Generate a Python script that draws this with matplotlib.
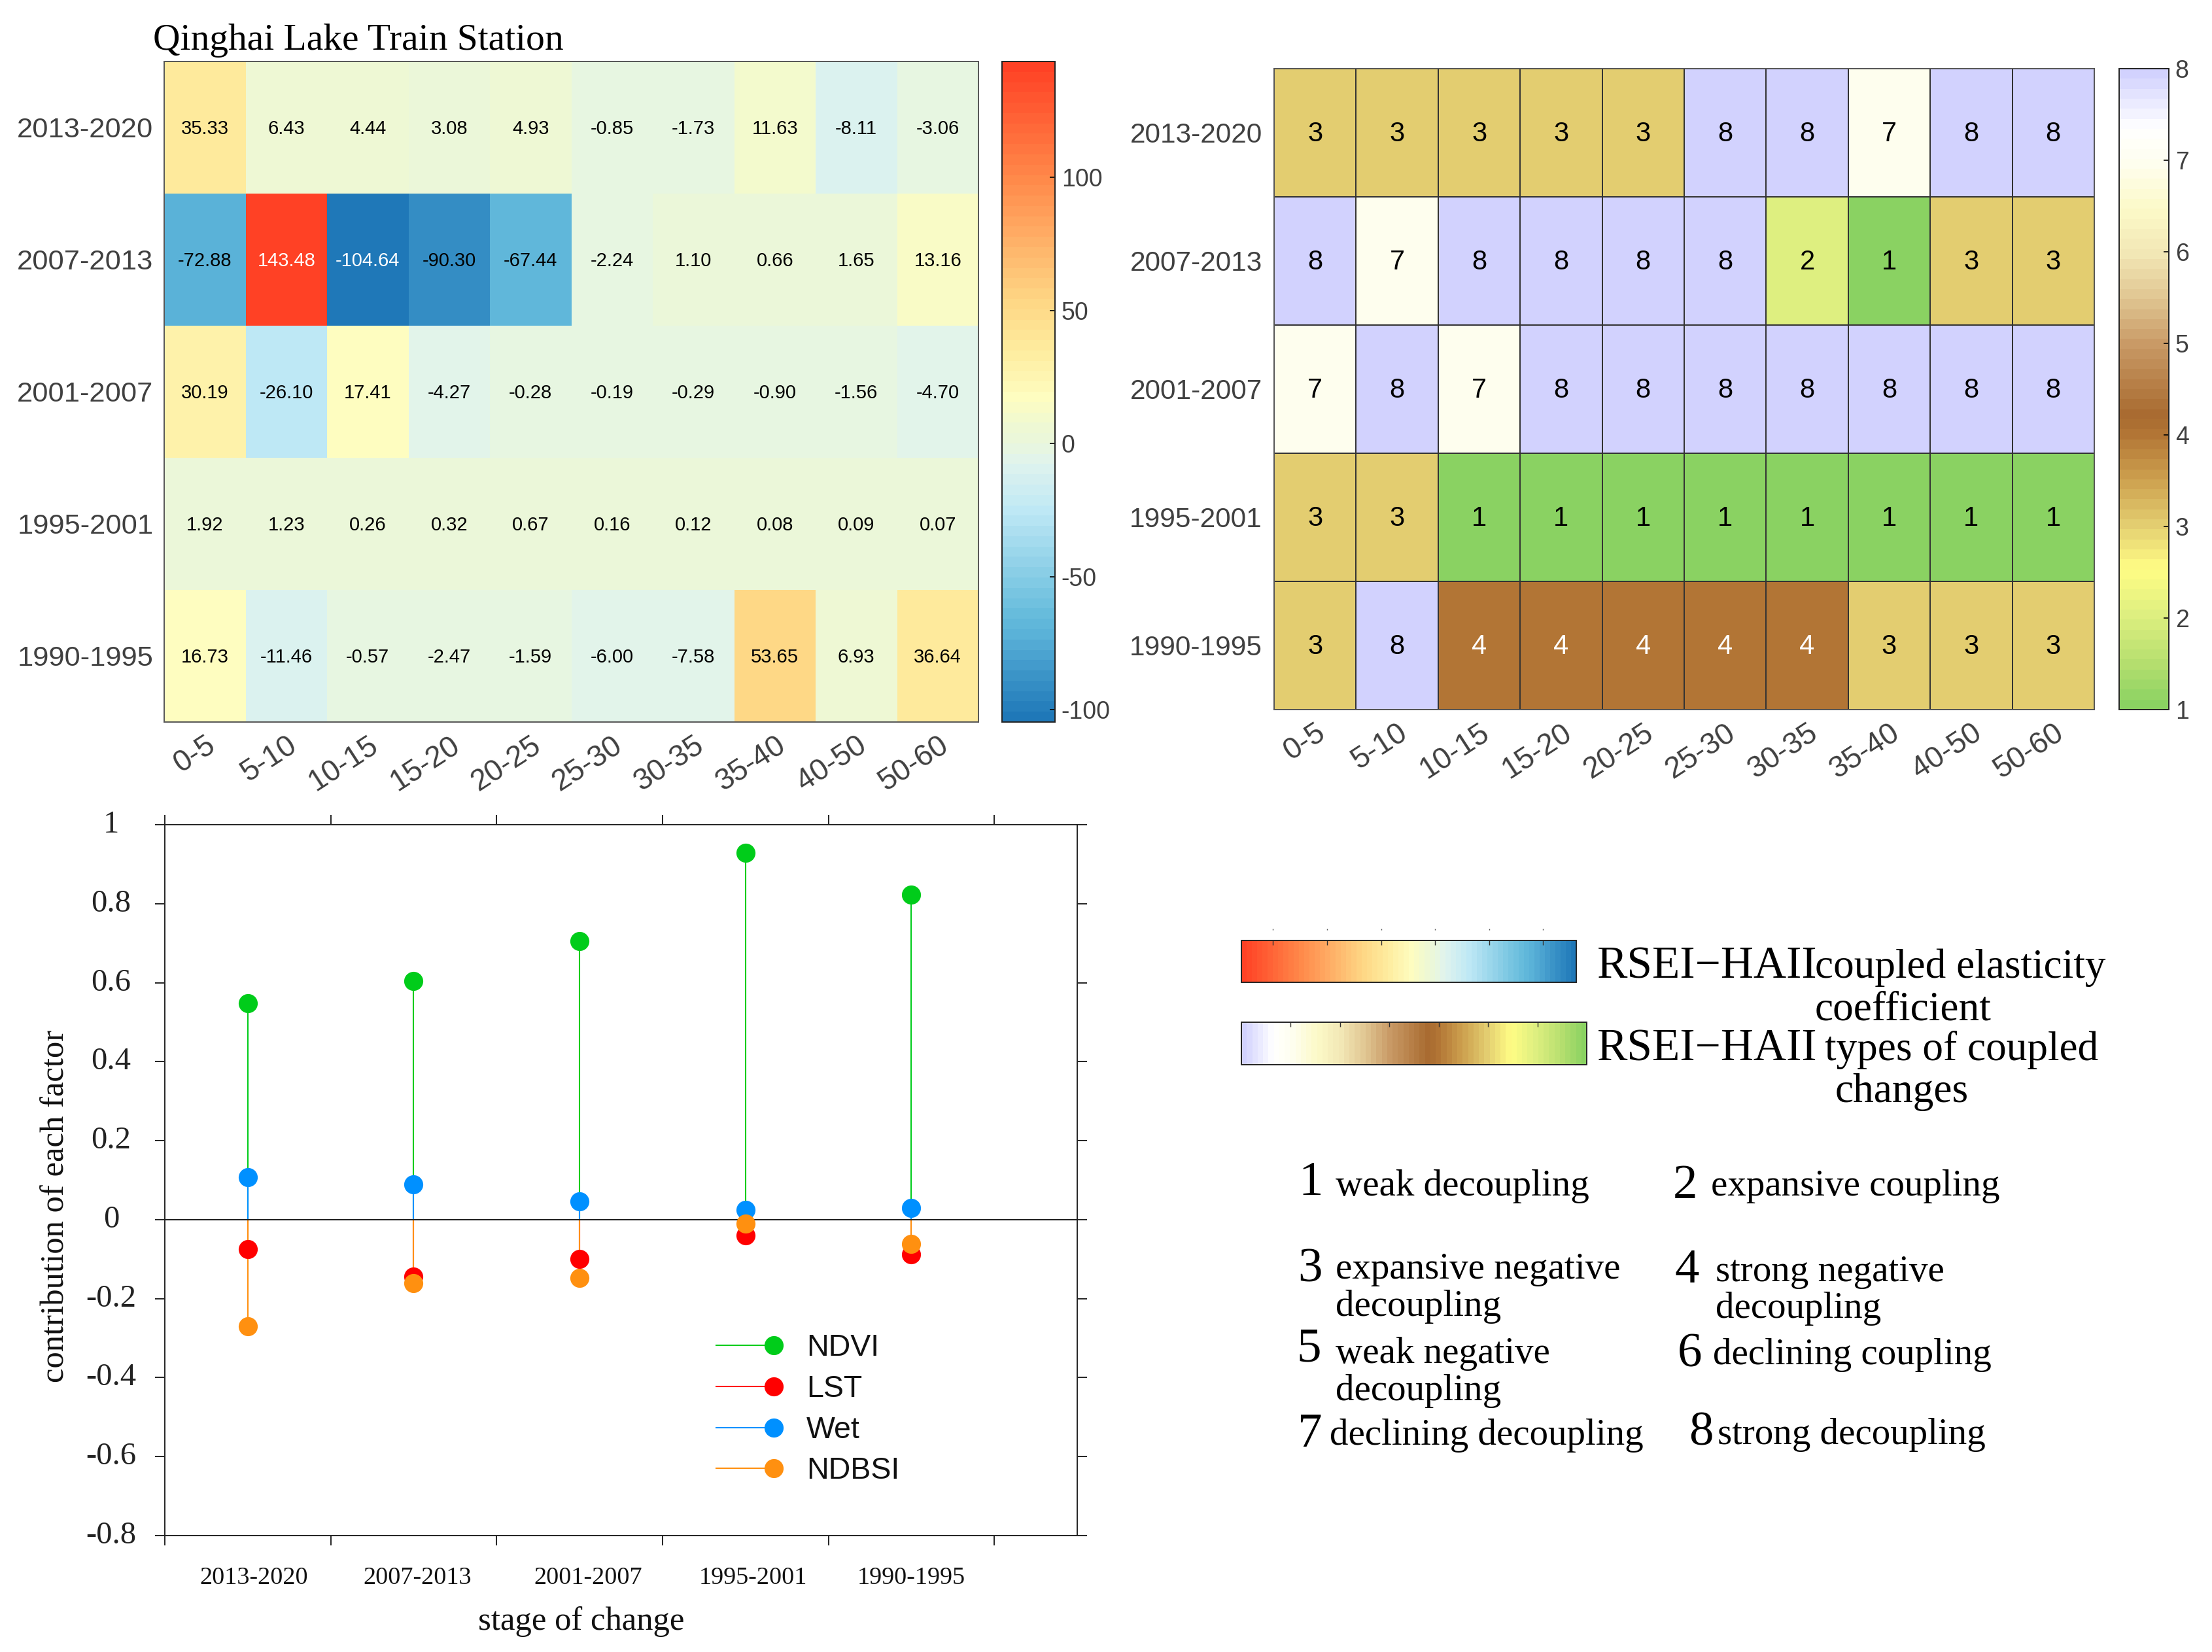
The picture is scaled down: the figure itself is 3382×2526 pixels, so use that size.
import numpy as np
import matplotlib
matplotlib.use('Agg')
import matplotlib.pyplot as plt
from matplotlib.cm import ScalarMappable
from matplotlib.colors import LinearSegmentedColormap, Normalize

plt.rcParams['axes.unicode_minus'] = False

W, H = 3382, 2526
SERIF = 'Liberation Serif'
SANS = 'Liberation Sans'
GREY = '#404040'

periods = ['2013-2020', '2007-2013', '2001-2007', '1995-2001', '1990-1995']
zones = ['0-5', '5-10', '10-15', '15-20', '20-25', '25-30', '30-35', '35-40', '40-50', '50-60']

elasticity = [
    [35.33, 6.43, 4.44, 3.08, 4.93, -0.85, -1.73, 11.63, -8.11, -3.06],
    [-72.88, 143.48, -104.64, -90.30, -67.44, -2.24, 1.10, 0.66, 1.65, 13.16],
    [30.19, -26.10, 17.41, -4.27, -0.28, -0.19, -0.29, -0.90, -1.56, -4.70],
    [1.92, 1.23, 0.26, 0.32, 0.67, 0.16, 0.12, 0.08, 0.09, 0.07],
    [16.73, -11.46, -0.57, -2.47, -1.59, -6.00, -7.58, 53.65, 6.93, 36.64],
]
coupling = [
    [3, 3, 3, 3, 3, 8, 8, 7, 8, 8],
    [8, 7, 8, 8, 8, 8, 2, 1, 3, 3],
    [7, 8, 7, 8, 8, 8, 8, 8, 8, 8],
    [3, 3, 1, 1, 1, 1, 1, 1, 1, 1],
    [3, 8, 4, 4, 4, 4, 4, 3, 3, 3],
]

ndvi = [0.548, 0.605, 0.705, 0.928, 0.822]
lst = [-0.075, -0.145, -0.100, -0.040, -0.088]
wet = [0.108, 0.090, 0.047, 0.024, 0.030]
ndbsi = [-0.270, -0.160, -0.148, -0.010, -0.062]

contrib_ticks = [-0.8, -0.6, -0.4, -0.2, 0, 0.2, 0.4, 0.6, 0.8, 1]
contrib_labels = ['-0.8', '-0.6', '-0.4', '-0.2', '0', '0.2', '0.4', '0.6', '0.8', '1']

elast_stops = [-104.64, -90.3, -72.88, -67.44, -26.1, -8.11, 0, 6, 17.41, 35.33, 53.65, 100, 143.48]
elast_cols = ['#1F78B8', '#3891C6', '#5BB2D8', '#62BADB', '#BEE8F5', '#DFF3EE', '#EAF7DC', '#EEF8D3',
              '#FEFDC0', '#FEEC9E', '#FED785', '#FF8A4A', '#FF4125']
type_stops = [1, 1.5, 2, 2.5, 3, 3.5, 4, 4.2, 5, 5.5, 6, 6.5, 7, 7.4, 8]
type_cols = ['#8AD262', '#B9E070', '#DEEF80', '#FFFD85', '#E3CD70', '#CDA04E', '#B27535', '#A86A2F',
             '#C99A66', '#E0C591', '#F2E7B5', '#FCFAC8', '#FEFEEE', '#FFFFFF', '#D2D2FE']


def make_cmap(stops, cols, name):
    pos = (np.array(stops) - stops[0]) / (stops[-1] - stops[0])
    return LinearSegmentedColormap.from_list(name, list(zip(pos, cols)), N=64)


def px_axes(x0, y0, x1, y1):
    # rectangle given in picture pixels, y downwards
    return fig.add_axes([x0 / W, 1 - y1 / H, (x1 - x0) / W, (y1 - y0) / H])


def heatmap(box, cbox, data, cmap, vmin, vmax, ticks, fmt, size, white, edge, ysize, ypad):
    ax = px_axes(*box)
    arr = np.array(data, dtype=float)
    mesh = ax.pcolormesh(arr, cmap=cmap, vmin=vmin, vmax=vmax,
                         edgecolors=edge, linewidth=1.2 if edge != 'face' else 0)
    ax.invert_yaxis()
    for i, row in enumerate(data):
        for j, v in enumerate(row):
            ax.text(j + .5, i + .51, fmt % v, ha='center', va='center', fontsize=size, family=SANS,
                    color='white' if v in white else 'black')
    ax.set_yticks(np.arange(len(periods)) + .5, periods)
    ax.set_xticks(np.arange(len(zones)) + .5, zones)
    ax.tick_params(length=0, labelcolor=GREY, labelfontfamily=SANS)
    ax.tick_params(axis='y', labelsize=ysize, pad=ypad)
    ax.tick_params(axis='x', labelsize=33, pad=10)
    for t in ax.get_xticklabels():
        t.set(rotation=33, ha='right', va='top', rotation_mode='anchor')
    for s in ax.spines.values():
        s.set_color('#555555')
        s.set_linewidth(1.4)
    cax = px_axes(*cbox)
    cb = fig.colorbar(mesh, cax=cax, ticks=ticks)
    cb.outline.set_linewidth(1.4)
    cb.outline.set_edgecolor('#222222')
    cax.tick_params(direction='in', length=6, width=1.2, labelsize=27, labelcolor=GREY, pad=7,
                    labelfontfamily=SANS)
    return ax


fig = plt.figure(figsize=(W / 100, H / 100), dpi=100)

elast_cmap = make_cmap(elast_stops, elast_cols, 'elast')
type_cmap = make_cmap(type_stops, type_cols, 'types')

heatmap((251, 94, 1496, 1104), (1532, 94, 1613, 1104), elasticity, elast_cmap, -104.64, 143.48,
        [-100, -50, 0, 50, 100], '%.2f', 21, (143.48, -104.64), 'face', 31.3, 12)
heatmap((1948, 105, 3202, 1085), (3240, 105, 3316, 1085), coupling, type_cmap, 1, 8,
        [1, 2, 3, 4, 5, 6, 7, 8], '%d', 30, (4,), '#333333', 30.5, 13)

# factor contributions
ax = px_axes(252, 1261, 1647, 2348)
stage_x = np.arange(len(periods)) + .5
series = [('NDVI', ndvi, '#00CC1A'), ('LST', lst, '#FF0000'), ('Wet', wet, '#0090FF'), ('NDBSI', ndbsi, '#FF9010')]
for name, vals, col in series:
    ax.vlines(stage_x, 0, vals, color=col, lw=1.5, zorder=2)
    ax.plot(stage_x, vals, 'o', color=col, ms=21, mew=0, zorder=3)
ax.axhline(0, color='#222222', lw=1.5, zorder=2.5)
ax.set_xlim(0, 5.5)
ax.set_ylim(-0.8, 1)
ax.set_xticks(range(6), [])
ax.set_yticks(contrib_ticks, [])
ax.tick_params(direction='out', length=11, width=1.4, top=True, right=True, color='#222222')
# the y labels sit centred on one column, not right aligned against the ticks
for v, s in zip(contrib_ticks, contrib_labels):
    ax.annotate(s, (0, v), xycoords=ax.get_yaxis_transform(), xytext=(-59, 0), textcoords='offset points',
                ha='center', va='center', fontsize=35, family=SERIF, color='#222222')
for s in ax.spines.values():
    s.set_color('#222222')
    s.set_linewidth(1.4)

# everything placed by picture pixels goes on a clear overlay
ov = fig.add_axes([0, 0, 1, 1], zorder=5)
ov.set_xlim(0, W)
ov.set_ylim(H, 0)
ov.axis('off')


def label(x, y, s, size, **kw):
    kw.setdefault('family', SERIF)
    kw.setdefault('va', 'baseline')
    ov.text(x, y, s, fontsize=size, color=kw.pop('color', 'black'), **kw)


label(234, 76, 'Qinghai Lake Train Station', 41.4)

for s, x in zip(periods, [388, 638, 899, 1151, 1393]):
    label(x, 2422, s, 27.5, ha='center', color='#111111')
label(889, 2492, 'stage of change', 36.5, ha='center', color='#111111')
label(85, 1844, 'contribution of each factor', 36.5, ha='center', va='center', rotation=90, color='#111111')

for (name, vals, col), y in zip(series, [2057, 2120, 2183, 2245]):
    ov.plot([1095, 1183], [y, y], color=col, lw=1.5)
    ov.plot([1183], [y], 'o', color=col, ms=21, mew=0)
    label(1233, y + 16, name, 33.5, family=SANS, color='#111111')

# colour key bars
for box, stops, cmap, ticks in [((1898, 1438, 2410, 1502), elast_stops, elast_cmap, [120, 80, 40, 0, -40, -80]),
                                ((1898, 1563, 2426, 1628), type_stops, type_cmap, [7, 6, 5, 4, 3, 2])]:
    cax = px_axes(*box)
    sm = ScalarMappable(Normalize(stops[0], stops[-1]), cmap)
    cb = fig.colorbar(sm, cax=cax, orientation='horizontal', ticks=ticks)
    cax.invert_xaxis()
    cax.xaxis.set_ticks_position('top')
    cax.tick_params(direction='in', length=5, width=1, labeltop=False, color='#333333')
    cb.outline.set_linewidth(1.4)
    cb.outline.set_edgecolor('#222222')
    if stops is elast_stops:
        sec = cax.secondary_xaxis(1.25)
        sec.set_xticks(ticks, [])
        sec.tick_params(length=1.5, width=1, color='#555555', direction='out')
        sec.spines['top'].set_visible(False)

label(2442, 1495, 'RSEI\u2212HAII', 50)
label(2775, 1495, 'coupled elasticity', 45.5)
label(2775, 1559, 'coefficient', 45.5)
label(2442, 1621, 'RSEI\u2212HAII', 50)
label(2790, 1621, 'types of coupled', 45.5)
label(2806, 1685, 'changes', 45.5)

for s, x, y in [('1', 1985, 1827), ('2', 2558, 1832), ('3', 1984, 1959), ('4', 2561, 1961),
                ('5', 1982, 2082), ('6', 2565, 2089), ('7', 1984, 2212), ('8', 2582, 2210)]:
    label(x, y, s, 54)
for s, x, y in [('weak decoupling', 2042, 1828), ('expansive coupling', 2616, 1828),
                ('expansive negative', 2042, 1955), ('decoupling', 2042, 2012),
                ('strong negative', 2623, 1959), ('decoupling', 2623, 2015),
                ('weak negative', 2042, 2084), ('decoupling', 2042, 2141),
                ('declining coupling', 2619, 2086), ('declining decoupling', 2033, 2209),
                ('strong decoupling', 2626, 2208)]:
    label(x, y, s, 41)

fig.savefig('out.png', dpi=100)
